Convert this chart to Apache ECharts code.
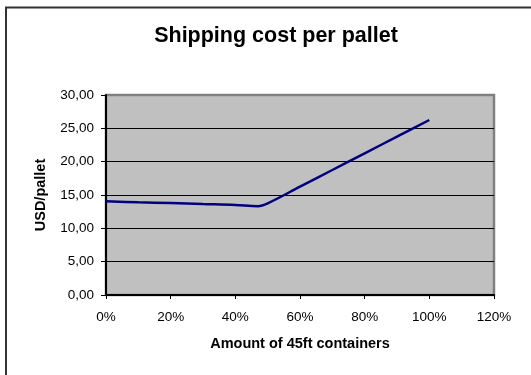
<!DOCTYPE html>
<html>
<head>
<meta charset="utf-8">
<script src="https://cdn.jsdelivr.net/npm/echarts@6/dist/echarts.min.js"></script>
<style>
  html, body { margin: 0; padding: 0; background: #ffffff; }
  #chart { width: 531px; height: 375px; }
</style>
</head>
<body>
<div id="chart"></div>
<script>
// Share of 45ft containers (%) and the resulting shipping cost (USD per pallet)
const containerShare = [0, 10, 20, 30, 40, 47, 50, 60, 70, 80, 90, 100];
const costPerPallet = [14.05, 13.9, 13.8, 13.65, 13.5, 13.32, 13.75, 16.25, 18.75, 21.25, 23.75, 26.25];

// Axis settings
const xTicks = { min: 0, max: 120, step: 20 };
const yTicks = { min: 0, max: 30, step: 5 };

const FONT = '"Liberation Sans", Arial, sans-serif';

const chart = echarts.init(document.getElementById('chart'), null, { renderer: 'canvas' });

// gridlines are black; the top one sits on the grey plot border, so keep it grey
const gridColors = ['#000000', '#000000', '#000000', '#000000', '#000000', '#000000', '#808080'];

chart.setOption({
  animation: false,
  backgroundColor: '#ffffff',
  title: {
    text: 'Shipping cost per pallet',
    left: 271,
    textAlign: 'center',
    top: 20,
    textStyle: { fontFamily: FONT, fontSize: 21.5, fontWeight: 'bold', color: '#000000' }
  },
  graphic: [{
    type: 'rect',
    z: 100,
    shape: { x: 6, y: 7.5, width: 620, height: 500 },
    style: { fill: 'none', stroke: '#333333', lineWidth: 2 }
  }],
  grid: {
    left: 106, right: 37, top: 95, bottom: 80,
    show: true,
    backgroundColor: '#c0c0c0',
    borderColor: '#808080',
    borderWidth: 2.5
  },
  xAxis: {
    type: 'value',
    min: xTicks.min, max: xTicks.max, interval: xTicks.step,
    name: 'Amount of 45ft containers',
    nameLocation: 'middle',
    nameGap: 41,
    nameTextStyle: { fontFamily: FONT, fontSize: 14.5, fontWeight: 'bold', color: '#000000' },
    axisLine: { lineStyle: { color: '#000000', width: 2 } },
    axisTick: { show: true, inside: false, length: 4, lineStyle: { color: '#000000', width: 1 } },
    axisLabel: { margin: 15, fontFamily: FONT, fontSize: 13.5, color: '#000000', formatter: '{value}%' },
    splitLine: { show: false }
  },
  yAxis: {
    type: 'value',
    min: yTicks.min, max: yTicks.max, interval: yTicks.step,
    name: 'USD/pallet',
    nameLocation: 'middle',
    nameRotate: 90,
    nameGap: 58,
    nameTextStyle: { fontFamily: FONT, fontSize: 14.5, fontWeight: 'bold', color: '#000000' },
    axisLine: { show: true, lineStyle: { color: '#000000', width: 2 } },
    axisTick: { show: true, inside: false, length: 5, lineStyle: { color: '#000000', width: 1 } },
    axisLabel: {
      margin: 12, fontFamily: FONT, fontSize: 13.5, color: '#000000',
      formatter: v => v.toFixed(2).replace('.', ',')
    },
    splitLine: { show: true, lineStyle: { color: gridColors, width: 1 } }
  },
  series: [{
    type: 'line',
    data: containerShare.map((x, i) => [x, costPerPallet[i]]),
    smooth: 0.35,
    showSymbol: false,
    lineStyle: { color: '#000080', width: 2.5 },
    z: 5
  }]
});
</script>
</body>
</html>
